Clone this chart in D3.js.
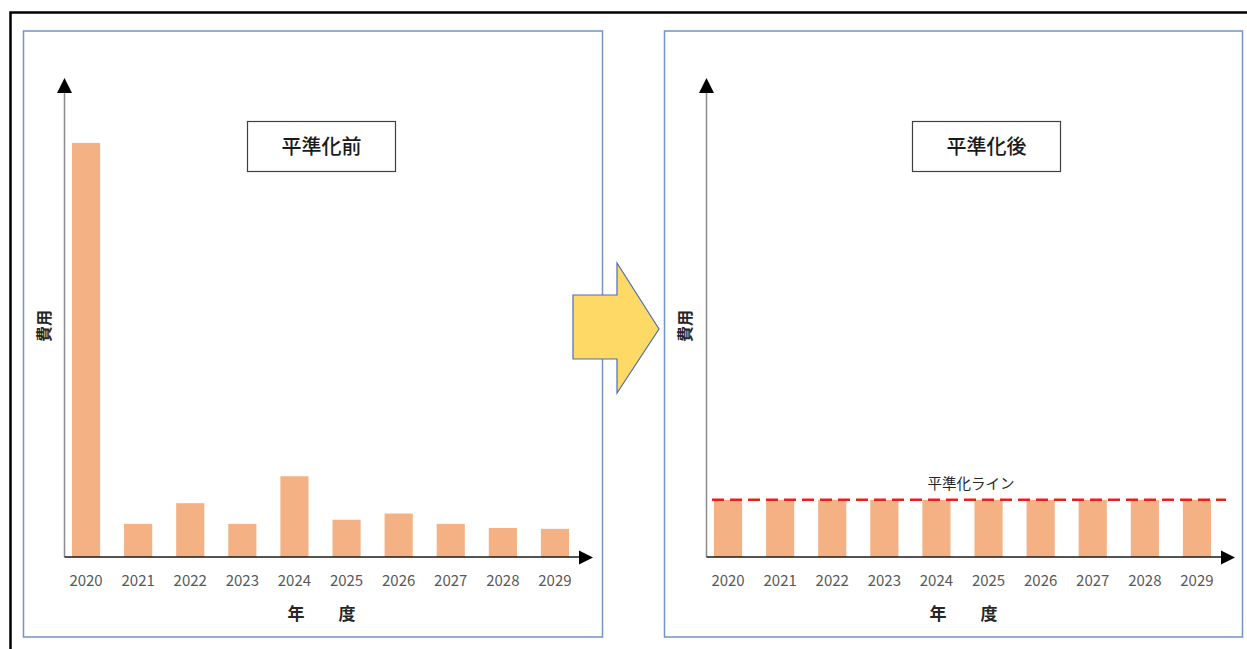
<!DOCTYPE html>
<html>
<head>
<meta charset="utf-8">
<script src="https://cdn.jsdelivr.net/npm/d3@7"></script>
<style>
  body { margin: 0; background: #fff; }
  text { font-family: "Noto Sans CJK JP", "Noto Sans", sans-serif; }
</style>
</head>
<body>
<div id="chart"></div>
<script>
const years = ['2020', '2021', '2022', '2023', '2024', '2025', '2026', '2027', '2028', '2029'];
const costBefore = [100, 8, 13, 8, 19.5, 9, 10.5, 8, 7, 6.8];
const costAfter = [13.8, 13.8, 13.8, 13.8, 13.8, 13.8, 13.8, 13.8, 13.8, 13.8];
const levelValue = 13.8;
const panelTitles = ['平準化前', '平準化後'];

const W = 1247, H = 649;
const barColor = '#f4b183';
const panelStroke = '#7393c9';

const svg = d3.select('#chart').append('svg')
  .attr('width', W).attr('height', H);

// outer frame (top + left only visible)
svg.append('path')
  .attr('d', `M10.5,${H} L10.5,12.5 L${W},12.5`)
  .attr('fill', 'none')
  .attr('stroke', '#000')
  .attr('stroke-width', 2.5);

function drawPanel(opts) {
  const g = svg.append('g');

  g.append('rect')
    .attr('x', opts.left).attr('y', 31)
    .attr('width', opts.width).attr('height', 606)
    .attr('fill', '#fff')
    .attr('stroke', panelStroke)
    .attr('stroke-width', 1.5);

  const x = d3.scaleBand()
    .domain(years)
    .range(opts.xRange)
    .paddingInner(0.46)
    .paddingOuter(0.23);

  const y = d3.scaleLinear()
    .domain([0, 115.2])
    .range([557, 80]);

  // bars
  g.selectAll('rect.bar')
    .data(opts.values)
    .join('rect')
    .attr('class', 'bar')
    .attr('x', (d, i) => x(years[i]))
    .attr('y', d => y(d))
    .attr('width', x.bandwidth())
    .attr('height', d => y(0) - y(d))
    .attr('fill', barColor);

  // y axis (gray line + black head)
  const ax = opts.axisX;
  g.append('line')
    .attr('x1', ax).attr('x2', ax)
    .attr('y1', y(0)).attr('y2', 90)
    .attr('stroke', '#8c8c8c')
    .attr('stroke-width', 1.5);
  g.append('polygon')
    .attr('points', `${ax},78 ${ax - 7.5},93 ${ax + 7.5},93`)
    .attr('fill', '#000');

  // x axis
  const axEnd = opts.xRange[1] + 12;
  g.append('line')
    .attr('x1', ax).attr('x2', axEnd - 10)
    .attr('y1', y(0)).attr('y2', y(0))
    .attr('stroke', '#1a1a1a')
    .attr('stroke-width', 1.6);
  g.append('polygon')
    .attr('points', `${axEnd},${y(0) + 0.5} ${axEnd - 14},${y(0) - 6.5} ${axEnd - 14},${y(0) + 7.5}`)
    .attr('fill', '#000');

  // tick labels
  const xAxis = d3.axisBottom(x).tickSize(0).tickPadding(0);
  const axisG = g.append('g')
    .attr('transform', `translate(0, 575)`)
    .call(xAxis);
  axisG.select('.domain').remove();
  axisG.selectAll('text')
    .attr('font-family', '"Open Sans", "Liberation Sans", sans-serif')
    .attr('font-size', 15)
    .attr('fill', '#595959');

  // axis titles
  g.append('text')
    .attr('x', (opts.xRange[0] + opts.xRange[1]) / 2 + 1)
    .attr('y', 620)
    .attr('text-anchor', 'middle')
    .attr('font-size', 17)
    .attr('font-weight', 'bold')
    .attr('fill', '#262626')
    .text('年　　度');

  g.append('text')
    .attr('transform', `translate(${opts.left + 26}, 326) rotate(-90)`)
    .attr('text-anchor', 'middle')
    .attr('font-size', 16)
    .attr('font-weight', 'bold')
    .attr('fill', '#262626')
    .text('費用');

  // title box
  g.append('rect')
    .attr('x', opts.boxX).attr('y', 121.5)
    .attr('width', 148).attr('height', 50)
    .attr('fill', '#fff')
    .attr('stroke', '#404040')
    .attr('stroke-width', 1.2);
  g.append('text')
    .attr('x', opts.boxX + 74)
    .attr('y', 154)
    .attr('text-anchor', 'middle')
    .attr('font-size', 20)
    .attr('font-weight', 500)
    .attr('fill', '#1a1a1a')
    .text(opts.title);

  return { g, x, y };
}

drawPanel({
  left: 23.5, width: 579, axisX: 64.5,
  xRange: [60, 581],
  values: costBefore,
  boxX: 247.5,
  title: panelTitles[0]
});

const right = drawPanel({
  left: 664.5, width: 578, axisX: 706.5,
  xRange: [702, 1223],
  values: costAfter,
  boxX: 912.5,
  title: panelTitles[1]
});

// leveling line
right.g.append('line')
  .attr('x1', 712).attr('x2', 1226)
  .attr('y1', right.y(levelValue)).attr('y2', right.y(levelValue))
  .attr('stroke', '#e8201c')
  .attr('stroke-width', 2.5)
  .attr('stroke-dasharray', '12,6');
right.g.append('text')
  .attr('x', 971)
  .attr('y', right.y(levelValue) - 11)
  .attr('text-anchor', 'middle')
  .attr('font-size', 14.5)
  .attr('fill', '#262626')
  .text('平準化ライン');

// block arrow between panels
svg.append('polygon')
  .attr('points', '573,295 617,295 617,263 659,329 617,393 617,359 573,359')
  .attr('fill', '#ffd966')
  .attr('stroke', '#4f6fb0')
  .attr('stroke-width', 1.2)
  .attr('stroke-linejoin', 'miter');
</script>
</body>
</html>
